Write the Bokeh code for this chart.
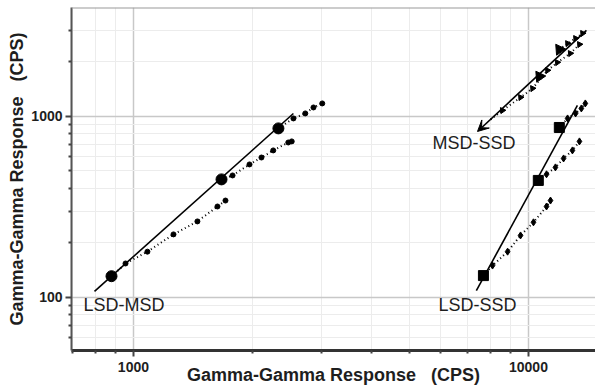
from bokeh.plotting import figure
from bokeh.models import FixedTicker, NumeralTickFormatter, Arrow, VeeHead, Span
from bokeh.core.properties import value
from bokeh.embed import file_html
from bokeh.resources import INLINE

# ---- data ----
x_major_ticks = [1000, 10000]
x_minor_ticks = [700, 800, 900, 2000, 3000, 4000, 5000, 6000, 7000, 8000, 9000]
y_major_ticks = [100, 1000]
y_minor_ticks = [60, 70, 80, 90, 200, 300, 400, 500, 600, 700, 800, 900, 2000, 3000]

# LSD-MSD
lsd_msd_line_x = [797, 2541]
lsd_msd_line_y = [108, 1038]
lsd_msd_pts_x = [880, 1671, 2328]
lsd_msd_pts_y = [131, 449, 859]
lsd_msd_d1_x = [880, 955, 1085, 1263, 1452, 1632, 1710]
lsd_msd_d1_y = [131, 154, 179, 223, 263, 318, 343]
lsd_msd_d2_x = [1671, 1782, 1967, 2109, 2259, 2466, 2516]
lsd_msd_d2_y = [449, 472, 543, 593, 649, 718, 728]
lsd_msd_d3_x = [2328, 2541, 2723, 2856, 3006]
lsd_msd_d3_y = [859, 975, 1039, 1121, 1180]

# LSD-SSD
lsd_ssd_line_x = [7380, 13300]
lsd_ssd_line_y = [109, 1150]
lsd_ssd_pts_x = [7691, 10590, 11970]
lsd_ssd_pts_y = [132, 443, 869]
lsd_ssd_d1_x = [7691, 8110, 8854, 9548, 10296, 11110, 11370]
lsd_ssd_d1_y = [132, 150, 179, 220, 260, 318, 343]
lsd_ssd_d2_x = [10590, 11110, 11700, 12270, 12920, 13460]
lsd_ssd_d2_y = [443, 479, 523, 586, 649, 728]
lsd_ssd_d3_x = [11970, 12560, 13160, 13610, 13930]
lsd_ssd_d3_y = [869, 975, 1039, 1107, 1180]

# MSD-SSD
msd_ssd_line_x = [14020, 7430]
msd_ssd_line_y = [2986, 826]
msd_ssd_pts_x = [10660, 11970]
msd_ssd_pts_y = [1663, 2344]
msd_ssd_d1_x = [8020, 8590, 9548, 10240, 11170, 11830, 12760, 13460]
msd_ssd_d1_y = [962, 1079, 1274, 1428, 1795, 1987, 2229, 2500]
msd_ssd_d2_x = [11970, 12560, 13160, 13710]
msd_ssd_d2_y = [2344, 2530, 2698, 2877]

labels_text = ["LSD-MSD", "LSD-SSD", "MSD-SSD"]
labels_x = [747, 5915, 5715]
labels_y = [90.4, 90.4, 710]

axis_title = "Gamma-Gamma Response\u00a0\u00a0\u00a0(CPS)"

FONT = "Liberation Sans"
INK = "#1e1e1e"

p = figure(width=595, height=390, x_axis_type="log", y_axis_type="log",
           x_range=(697, 14780), y_range=(50.9, 3999),
           output_backend="svg", toolbar_location=None,
           min_border_left=71, min_border_right=0, min_border_top=7, min_border_bottom=40)
p.outline_line_color = None
p.background_fill_color = "white"

xt = FixedTicker(ticks=x_major_ticks, minor_ticks=x_minor_ticks)
yt = FixedTicker(ticks=y_major_ticks, minor_ticks=y_minor_ticks)
p.xaxis.ticker = xt
p.yaxis.ticker = yt
p.xgrid.ticker = xt
p.ygrid.ticker = yt
for ax in (p.xaxis, p.yaxis):
    ax.formatter = NumeralTickFormatter(format="0")
    ax.major_label_text_font = FONT
    ax.major_label_text_font_size = "14px"
    ax.major_label_text_font_style = "bold"
    ax.major_label_text_color = INK
    ax.axis_label = axis_title
    ax.axis_label_text_font = FONT
    ax.axis_label_text_font_size = "18px"
    ax.axis_label_text_font_style = "bold"
    ax.axis_label_text_color = INK
    ax.major_tick_in = 0
    ax.major_tick_out = 6
    ax.minor_tick_in = 0
    ax.minor_tick_out = 3
    ax.major_tick_line_width = 2
    ax.minor_tick_line_width = 2
    ax.major_tick_line_color = "#444444"
    ax.minor_tick_line_color = "#444444"
p.yaxis.major_label_standoff = 3
p.yaxis.axis_label_standoff = 1
p.xaxis.major_label_standoff = 5
p.xaxis.axis_label_standoff = -10
p.xaxis.axis_line_width = 3
p.xaxis.axis_line_color = "#333333"
p.yaxis.axis_line_width = 2
p.yaxis.axis_line_color = "#555555"

for g in (p.xgrid, p.ygrid):
    g.grid_line_color = "#c8c8c8"
    g.grid_line_width = 1.5
    g.minor_grid_line_color = "#ececec"
    g.minor_grid_line_width = 1

p.add_layout(Span(location=3999, dimension="width", line_color="#999999", line_width=2))

def group(lx, ly, px, py, dots, big_marker, big_size, small_marker, small_size):
    p.line(lx, ly, line_color="black", line_width=1.6)
    for dx, dy in dots:
        p.line(dx, dy, line_color="black", line_width=2, line_dash="1 3")
        p.scatter(dx[1:], dy[1:], marker=small_marker, size=small_size,
                  fill_color="black", line_color="black")
    p.scatter(px, py, marker=big_marker, size=big_size, fill_color="black", line_color="black")

group(lsd_msd_line_x, lsd_msd_line_y, lsd_msd_pts_x, lsd_msd_pts_y,
      [(lsd_msd_d1_x, lsd_msd_d1_y), (lsd_msd_d2_x, lsd_msd_d2_y), (lsd_msd_d3_x, lsd_msd_d3_y)],
      "circle", 11, "circle", 5)
group(lsd_ssd_line_x, lsd_ssd_line_y, lsd_ssd_pts_x, lsd_ssd_pts_y,
      [(lsd_ssd_d1_x, lsd_ssd_d1_y), (lsd_ssd_d2_x, lsd_ssd_d2_y), (lsd_ssd_d3_x, lsd_ssd_d3_y)],
      "square", 10, "diamond", 7)

# MSD-SSD with arrow
p.add_layout(Arrow(end=VeeHead(size=11, fill_color="black", line_color="black"),
                   x_start=msd_ssd_line_x[0], y_start=msd_ssd_line_y[0],
                   x_end=msd_ssd_line_x[1], y_end=msd_ssd_line_y[1],
                   line_color="black", line_width=1.6))
for dx, dy in [(msd_ssd_d1_x, msd_ssd_d1_y), (msd_ssd_d2_x, msd_ssd_d2_y)]:
    p.line(dx, dy, line_color="black", line_width=2, line_dash="1 3")
    p.scatter(dx[1:], dy[1:], marker="triangle", size=6, fill_color="black", line_color="black",
              angle=0.6)
p.scatter(msd_ssd_pts_x, msd_ssd_pts_y, marker="triangle", size=11, fill_color="black",
          line_color="black", angle=0.6)

p.text(labels_x, labels_y, text=labels_text, text_font=value(FONT), text_font_size="18px",
       text_baseline="middle", text_align="left", text_color=INK)

open("out.html", "w").write(file_html(p, INLINE))
